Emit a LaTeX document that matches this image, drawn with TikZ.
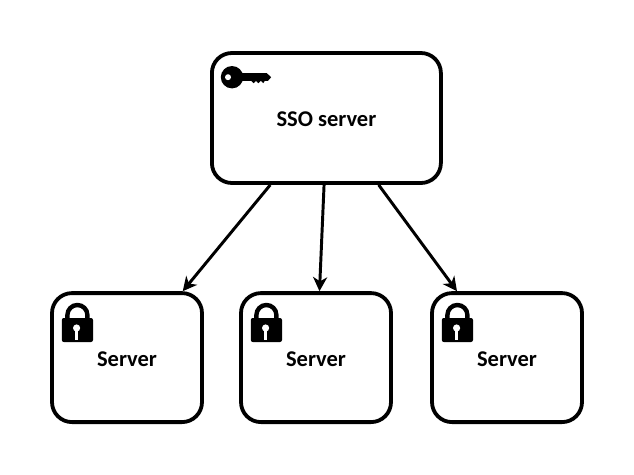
\documentclass[tikz,border=0pt]{standalone}
\usepackage{fontspec}
\setmainfont{Carlito}
\usetikzlibrary{arrows.meta}
\newcommand{\boxlabel}[1]{\raisebox{-1.2pt}[\height][\depth]{#1}}
\tikzset{
  box/.style={draw=black,fill=white,line width=2.7pt,rounded corners=0.5cm,align=center,
    inner sep=0pt,font=\fontsize{16}{19}\selectfont\bfseries},
  link/.style={line width=2.1pt,-{Stealth[length=10pt,width=10pt,inset=3pt]}},
  lockicon/.pic={
    \draw[line width=0.11cm] (-0.25,0.25) -- (-0.25,0.375) arc(180:0:0.25) -- (0.25,0.25);
    \fill[rounded corners=0.05cm] (-0.39,-0.3) rectangle (0.39,0.3);
    \fill[white] (-0.02,0.05) circle(0.09);
    \fill[white] (-0.05,0.05) rectangle (0.01,-0.25);
  },
  keyicon/.pic={
    \fill (0,0) circle(0.28);
    \fill (0.2,0.1) -- (0.87,0.1) -- (0.98,0) -- (0.9,-0.09) -- (0.82,-0.09) -- (0.78,-0.15)
      -- (0.72,-0.09) -- (0.66,-0.15) -- (0.6,-0.09) -- (0.54,-0.15) -- (0.48,-0.09) -- (0.2,-0.09) -- cycle;
    \fill[white] (-0.1,0) circle(0.075);
  }
}
\begin{document}
\begin{tikzpicture}
    \useasboundingbox (0,0) rectangle (15.85,11.85);
    \node[box,minimum width=5.725cm,minimum height=3.25cm] (sso) at (8.16,8.9) {\boxlabel{SSO server}};
    \node[box,minimum width=3.75cm,minimum height=3.225cm] (srva) at (3.175,2.91) {\boxlabel{Server}};
    \node[box,minimum width=3.75cm,minimum height=3.225cm] (srvb) at (7.9,2.91) {\boxlabel{Server}};
    \node[box,minimum width=3.75cm,minimum height=3.225cm] (srvc) at (12.675,2.91) {\boxlabel{Server}};
    \draw[link] (sso.230) -- (srva.50);
    \draw[link] (sso.268) -- (srvb.87);
    \draw[link] (sso.-52) -- (srvc.127);
    \pic at ([shift={(-2.36,1.02)}]sso.center) {keyicon};
    \foreach \srv in {srva,srvb,srvc}
      \pic at ([shift={(-1.24,0.69)}]\srv.center) {lockicon};
\end{tikzpicture}
\end{document}
